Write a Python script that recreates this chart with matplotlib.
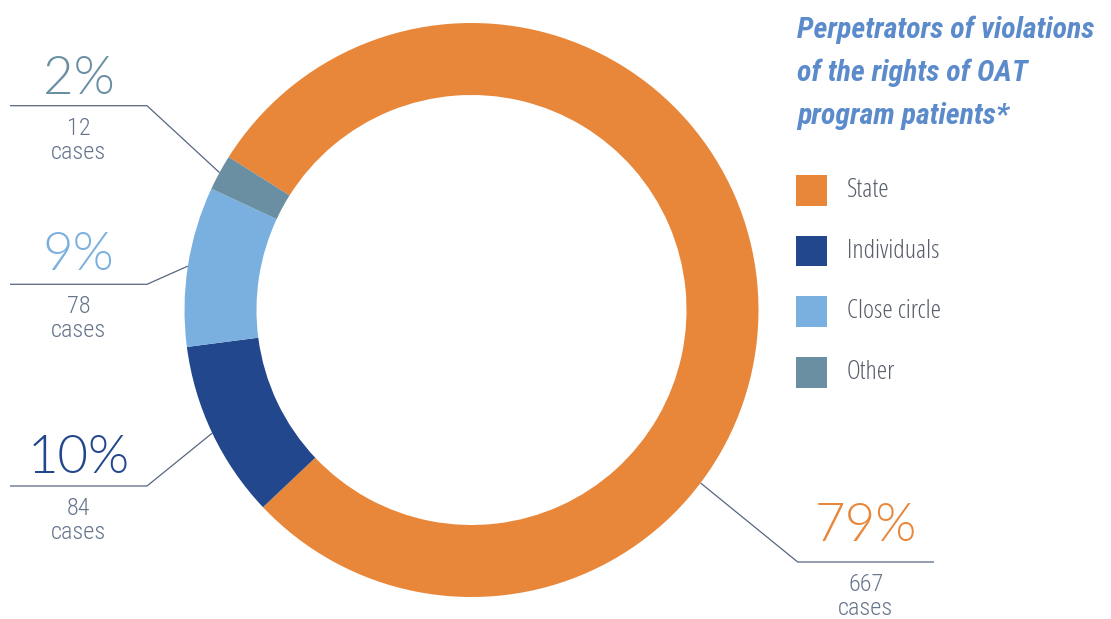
import matplotlib
matplotlib.use("Agg")
import matplotlib.pyplot as plt
from matplotlib.patches import Rectangle
import numpy as np

# perpetrators of violations, share in % and number of cases
categories = ["State", "Individuals", "Close circle", "Other"]
shares = [79, 10, 9, 2]
cases = [667, 84, 78, 12]
colors = ["#E8873A", "#22478C", "#7AB0DF", "#6A8FA3"]

title_lines = ["Perpetrators of violations", "of the rights of OAT", "program patients*"]

W, H = 1111, 619
line_color = "#56667F"
case_color = "#66758C"

fig = plt.figure(figsize=(W / 100, H / 100), dpi=100)
ax = fig.add_axes([0, 0, 1, 1])

cx, cy = 471.5, 309
R = 287
wedges, _ = ax.pie(shares, colors=colors, startangle=147.8, counterclock=False,
                   radius=R, center=(cx, cy),
                   wedgeprops=dict(width=72, linewidth=0))

ax.set_xlim(0, W)
ax.set_ylim(0, H)
ax.set_aspect("auto")
ax.axis("off")

# callouts: where the leader leaves the ring (fraction along wedge), elbow, line end
anchor_frac = [0.65, 0.5, 0.5, 0.5]
elbows = [(797.7, 57), (147, 133), (147, 334.7), (147, 513.3)]
line_ends = [934, 10, 10, 10]
pct_gap = [21, 13, 14, 12]

for w, f, (ex, ey), lx, gap, pct, n, col in zip(wedges, anchor_frac, elbows, line_ends,
                                                  pct_gap, shares, cases, colors):
    ang = np.deg2rad(w.theta2 - f * (w.theta2 - w.theta1))
    axp, ayp = cx + R * np.cos(ang), cy + R * np.sin(ang)
    ax.plot([axp, ex, lx], [ayp, ey, ey], color=line_color, lw=0.9,
            solid_capstyle="butt", solid_joinstyle="miter")
    mx = (ex + lx) / 2
    ax.text(mx, ey + gap, f"{pct}%", color=col, fontsize=38, family="Lato",
            fontweight=300, ha="center", va="baseline")
    ax.text(mx, ey - 29, str(n), color=case_color, fontsize=17.5,
            family="Roboto Condensed", fontweight=300, ha="center", va="baseline")
    ax.text(mx, ey - 53, "cases", color=case_color, fontsize=17.5,
            family="Roboto Condensed", fontweight=300, ha="center", va="baseline")

# title
for i, t in enumerate(title_lines):
    ax.text(797, 580.7 - i * 42.7, t, color="#5B8BCB", fontsize=21.5,
            family="Roboto Condensed", fontweight="bold", style="italic",
            ha="left", va="baseline")

# legend
for i, (name, col) in enumerate(zip(categories, colors)):
    top = H - (175 + i * 60.7)
    ax.add_patch(Rectangle((796, top - 30.7), 30.7, 30.7, color=col, lw=0))
    ax.text(847, top - 15.3, name, color="#585D69", fontsize=19,
            family="Open Sans", fontweight=300, fontstretch="condensed",
            ha="left", va="center")

fig.savefig("out.png", dpi=100)
